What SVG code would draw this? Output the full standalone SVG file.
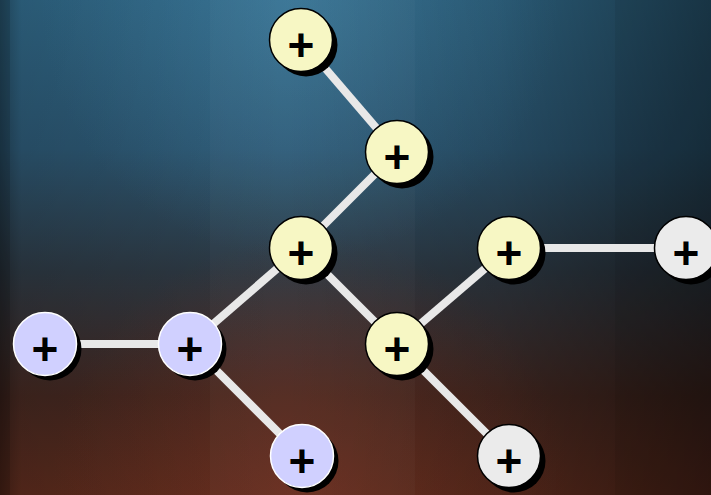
<svg xmlns="http://www.w3.org/2000/svg" width="711" height="495" viewBox="0 0 711 495">
  <style>
    .edge { stroke: #e8e8e8; stroke-width: 8; fill: none; }
    .shadow { fill: #000000; }
    .yellow { fill: #f7f7c4; stroke: #000000; stroke-width: 1.5; }
    .blue { fill: #d0d0ff; stroke: #ffffff; stroke-width: 1.5; }
    .gray { fill: #ebebeb; stroke: #000000; stroke-width: 1.5; }
    .plus { font-family: "Liberation Sans", Arial, sans-serif; font-size: 46px; font-weight: bold; fill: #000000; text-anchor: middle; }
  </style>
  <defs>
    <linearGradient id="bgV" x1="0" y1="0" x2="0" y2="1">
      <stop offset="0" stop-color="#2f6685"/>
      <stop offset="0.3" stop-color="#2b5570"/>
      <stop offset="0.55" stop-color="#2c3741"/>
      <stop offset="0.8" stop-color="#41261f"/>
      <stop offset="1" stop-color="#5a2a1c"/>
    </linearGradient>
    <linearGradient id="bgH" x1="0" y1="0" x2="1" y2="0">
      <stop offset="0" stop-color="#000" stop-opacity="0.35"/>
      <stop offset="0.03" stop-color="#000" stop-opacity="0.12"/>
      <stop offset="0.4" stop-color="#000" stop-opacity="0"/>
      <stop offset="0.7" stop-color="#000" stop-opacity="0.15"/>
      <stop offset="1" stop-color="#000" stop-opacity="0.45"/>
    </linearGradient>
    <radialGradient id="glowTop" cx="300" cy="0" r="260" gradientUnits="userSpaceOnUse">
      <stop offset="0" stop-color="#4a8cb0" stop-opacity="0.4"/>
      <stop offset="1" stop-color="#4a8cb0" stop-opacity="0"/>
    </radialGradient>
    <radialGradient id="glowBottom" cx="310" cy="495" r="260" gradientUnits="userSpaceOnUse">
      <stop offset="0" stop-color="#7a3322" stop-opacity="0.5"/>
      <stop offset="1" stop-color="#7a3322" stop-opacity="0"/>
    </radialGradient>
  </defs>

  <!-- backdrop -->
  <g id="background">
    <rect x="0" y="0" width="711" height="495" fill="url(#bgV)"/>
    <rect x="0" y="0" width="711" height="495" fill="url(#glowTop)"/>
    <rect x="0" y="0" width="711" height="495" fill="url(#glowBottom)"/>
    <rect x="0" y="0" width="711" height="495" fill="url(#bgH)"/>
    <!-- vertical panels -->
    <rect x="0" y="0" width="10" height="495" fill="#000" opacity="0.12"/>
    <rect x="210" y="0" width="205" height="495" fill="#fff" opacity="0.025"/>
    <rect x="615" y="0" width="96" height="495" fill="#000" opacity="0.06"/>
  </g>

  <!-- connectors -->
  <g id="edges">
    <line class="edge" x1="301" y1="40" x2="397" y2="152"/>
    <line class="edge" x1="397" y1="152" x2="301" y2="248"/>
    <line class="edge" x1="301" y1="248" x2="190" y2="344"/>
    <line class="edge" x1="301" y1="248" x2="397" y2="344"/>
    <line class="edge" x1="397" y1="344" x2="509" y2="248"/>
    <line class="edge" x1="509" y1="248" x2="686" y2="248"/>
    <line class="edge" x1="397" y1="344" x2="509" y2="456"/>
    <line class="edge" x1="45" y1="344" x2="190" y2="344"/>
    <line class="edge" x1="190" y1="344" x2="302" y2="456"/>
  </g>

  <!-- nodes -->
  <g id="n1">
    <circle class="shadow" cx="306" cy="45" r="31.5"/>
    <circle class="yellow" cx="301" cy="40" r="31.5"/>
    <text class="plus" x="301" y="61">+</text>
  </g>
  <g id="n2">
    <circle class="shadow" cx="402" cy="157" r="31.5"/>
    <circle class="yellow" cx="397" cy="152" r="31.5"/>
    <text class="plus" x="397" y="173">+</text>
  </g>
  <g id="n3">
    <circle class="shadow" cx="306" cy="253" r="31.5"/>
    <circle class="yellow" cx="301" cy="248" r="31.5"/>
    <text class="plus" x="301" y="269">+</text>
  </g>
  <g id="n4">
    <circle class="shadow" cx="514" cy="253" r="31.5"/>
    <circle class="yellow" cx="509" cy="248" r="31.5"/>
    <text class="plus" x="509" y="269">+</text>
  </g>
  <g id="n5">
    <circle class="shadow" cx="691" cy="253" r="31.5"/>
    <circle class="gray" cx="686" cy="248" r="31.5"/>
    <text class="plus" x="686" y="269">+</text>
  </g>
  <g id="n6">
    <circle class="shadow" cx="402" cy="349" r="31.5"/>
    <circle class="yellow" cx="397" cy="344" r="31.5"/>
    <text class="plus" x="397" y="365">+</text>
  </g>
  <g id="n7">
    <circle class="shadow" cx="514" cy="461" r="31.5"/>
    <circle class="gray" cx="509" cy="456" r="31.5"/>
    <text class="plus" x="509" y="477">+</text>
  </g>
  <g id="n8">
    <circle class="shadow" cx="50" cy="349" r="31.5"/>
    <circle class="blue" cx="45" cy="344" r="31.5"/>
    <text class="plus" x="45" y="365">+</text>
  </g>
  <g id="n9">
    <circle class="shadow" cx="195" cy="349" r="31.5"/>
    <circle class="blue" cx="190" cy="344" r="31.5"/>
    <text class="plus" x="190" y="365">+</text>
  </g>
  <g id="n10">
    <circle class="shadow" cx="307" cy="461" r="31.5"/>
    <circle class="blue" cx="302" cy="456" r="31.5"/>
    <text class="plus" x="302" y="477">+</text>
  </g>
</svg>
